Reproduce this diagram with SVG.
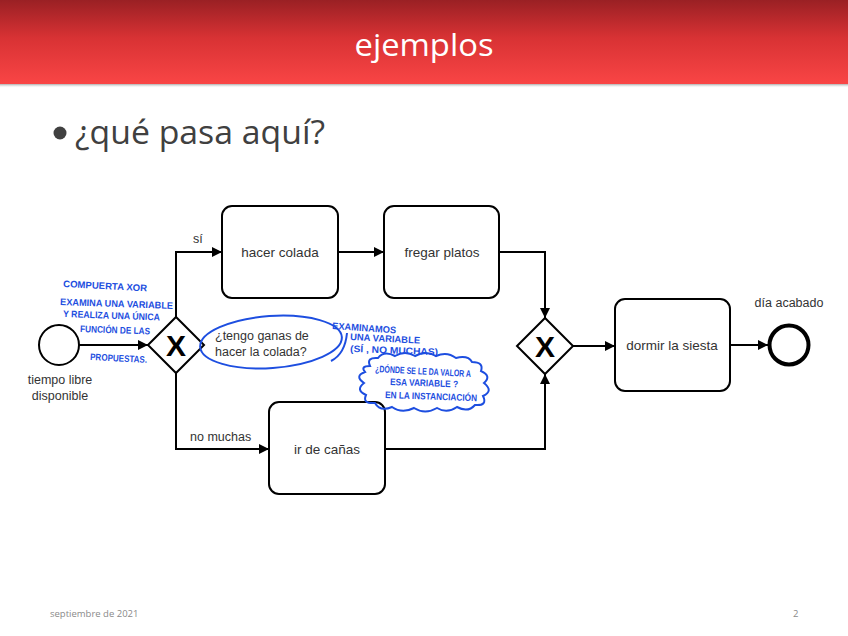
<svg xmlns="http://www.w3.org/2000/svg" width="848" height="636" viewBox="0 0 848 636">
<defs>
<linearGradient id="hdr" x1="0" y1="0" x2="0" y2="1">
<stop offset="0" stop-color="#9a2024"/>
<stop offset="0.45" stop-color="#d83234"/>
<stop offset="1" stop-color="#f94545"/>
</linearGradient>
<linearGradient id="shd" x1="0" y1="0" x2="0" y2="1">
<stop offset="0" stop-color="#999" stop-opacity="0.8"/>
<stop offset="1" stop-color="#fff" stop-opacity="0"/>
</linearGradient>
<marker id="arr" viewBox="0 0 10 10" refX="10" refY="5" markerWidth="10" markerHeight="10" markerUnits="userSpaceOnUse" orient="auto">
<path d="M0,0 L10,5 L0,10 Z" fill="#000"/>
</marker>
<style>
.task{fill:#fff;stroke:#000;stroke-width:2}
.lbl{font-family:"Liberation Sans",Arial,sans-serif;font-size:12.5px;fill:#333}
.big{font-size:13.5px}
.ctr{text-anchor:middle}
.gw{fill:#fff;stroke:#000;stroke-width:2}
.gx{font-family:"Liberation Sans",Arial,sans-serif;font-size:30px;font-weight:bold;fill:#000;text-anchor:middle}
.flow{fill:none;stroke:#000;stroke-width:2;marker-end:url(#arr)}
.hand{font-family:"Liberation Sans",Arial,sans-serif;font-weight:bold;fill:#1d4ee0;font-size:9.5px}
.ink{fill:none;stroke:#1d4ee0;stroke-width:2}
</style>
</defs>
<rect width="848" height="636" fill="#fff"/>
<rect x="0" y="0" width="848" height="84" fill="url(#hdr)"/>
<rect x="0" y="84" width="848" height="4" fill="url(#shd)"/>
<text x="424" y="56" font-family="'Open Sans','Noto Sans',sans-serif" font-size="31" fill="#fff" text-anchor="middle" textLength="139" lengthAdjust="spacingAndGlyphs">ejemplos</text>
<circle cx="60" cy="133" r="6.5" fill="#404040"/>
<text x="75" y="144" font-family="'Open Sans','Noto Sans',sans-serif" font-size="32" fill="#404040" textLength="250" lengthAdjust="spacingAndGlyphs">¿qué pasa aquí?</text>

<g id="connectors">
<path class="flow" d="M79,345 L148,345"/>
<path class="flow" d="M176,317 L176,252 L222,252"/>
<path class="flow" d="M338,252 L384,252"/>
<path class="flow" d="M499,252 L545,252 L545,318"/>
<path class="flow" d="M176,373 L176,449 L269,449"/>
<path class="flow" d="M385,449 L545,449 L545,374"/>
<path class="flow" d="M573,346 L615,346"/>
<path class="flow" d="M730,345 L768,345"/>
<text class="lbl" x="193" y="243">sí</text>
<text class="lbl" x="190" y="441">no muchas</text>
</g>

<g id="start">
<circle cx="59" cy="345" r="20" fill="#fff" stroke="#000" stroke-width="2"/>
<text class="lbl ctr" x="60" y="384">tiempo libre</text>
<text class="lbl ctr" x="60" y="400">disponible</text>
</g>
<g id="gateway1">
<path class="gw" d="M148,345 L176,317 L204,345 L176,373 Z"/>
<text class="gx" x="176" y="356">X</text>
</g>
<g id="hacer-colada">
<rect class="task" x="222" y="206" width="116" height="92" rx="10"/>
<text class="lbl big ctr" x="280" y="257">hacer colada</text>
</g>
<g id="fregar-platos">
<rect class="task" x="384" y="206" width="115" height="92" rx="10"/>
<text class="lbl big ctr" x="442" y="257">fregar platos</text>
</g>
<g id="ir-de-canas">
<rect class="task" x="269" y="402" width="116" height="92" rx="10"/>
<text class="lbl big ctr" x="327" y="454">ir de cañas</text>
</g>
<g id="gateway2">
<path class="gw" d="M517,346 L545,318 L573,346 L545,374 Z"/>
<text class="gx" x="545" y="357">X</text>
</g>
<g id="dormir-siesta">
<rect class="task" x="615" y="299" width="115" height="92" rx="10"/>
<text class="lbl big ctr" x="672" y="350">dormir la siesta</text>
</g>
<g id="end">
<circle cx="789" cy="345" r="19.5" fill="#fff" stroke="#000" stroke-width="4"/>
<text class="lbl ctr" x="789" y="307">día acabado</text>
</g>

<g id="annotations">
<ellipse class="ink" cx="271" cy="342" rx="71" ry="26" transform="rotate(-4 271 342)"/>
<text class="lbl" x="215" y="340" font-size="12.5">¿tengo ganas de</text>
<text class="lbl" x="215" y="356" font-size="12.5">hacer la colada?</text>

<text class="hand" x="63" y="287" textLength="84" lengthAdjust="spacingAndGlyphs" transform="rotate(3 63 287)">COMPUERTA XOR</text>
<text class="hand" x="60" y="305" textLength="113" lengthAdjust="spacingAndGlyphs" transform="rotate(2 60 305)">EXAMINA UNA VARIABLE</text>
<text class="hand" x="63" y="317" textLength="97" lengthAdjust="spacingAndGlyphs" transform="rotate(2 63 317)">Y REALIZA UNA ÚNICA</text>
<text class="hand" x="80" y="332" textLength="70" lengthAdjust="spacingAndGlyphs" transform="rotate(2 80 332)">FUNCIÓN DE LAS</text>
<text class="hand" x="90" y="360" textLength="57" lengthAdjust="spacingAndGlyphs" transform="rotate(3 90 360)">PROPUESTAS.</text>

<text class="hand" x="332" y="329" font-size="8.5" textLength="64" lengthAdjust="spacingAndGlyphs" transform="rotate(4 332 329)">EXAMINAMOS</text>
<text class="hand" x="350" y="340" font-size="8.5" textLength="70" lengthAdjust="spacingAndGlyphs" transform="rotate(3 350 340)">UNA VARIABLE</text>
<text class="hand" x="350" y="352" font-size="8.5" textLength="88" lengthAdjust="spacingAndGlyphs" transform="rotate(2 350 352)">(SÍ , NO MUCHAS)</text>
<path class="ink" stroke-width="1.6" d="M347,333 Q345,354 331,361"/>

<path class="ink" stroke-width="1.8" d="M370,366 Q366,357 378,358 Q384,350 395,356 Q405,350 415,356 Q426,350 436,356 Q447,351 456,358 Q468,355 472,362 Q484,362 481,371 Q492,376 484,383 Q494,391 483,396 Q488,406 475,405 Q468,413 457,407 Q447,414 437,408 Q425,415 414,408 Q402,414 392,407 Q380,412 375,403 Q362,404 366,395 Q355,390 364,383 Q354,376 365,372 Q360,366 370,366 Z"/>
<text class="hand" x="375" y="372" font-size="7.5" textLength="96" lengthAdjust="spacingAndGlyphs" transform="rotate(3 375 372)">¿DÓNDE SE LE DA VALOR A</text>
<text class="hand" x="390" y="385" font-size="7.5" textLength="68" lengthAdjust="spacingAndGlyphs" transform="rotate(2 390 385)">ESA VARIABLE ?</text>
<text class="hand" x="385" y="398" font-size="7.5" textLength="92" lengthAdjust="spacingAndGlyphs" transform="rotate(2 385 398)">EN LA INSTANCIACIÓN</text>
</g>

<text x="50" y="617" font-family="'Open Sans','Noto Sans',sans-serif" font-size="9.5" fill="#8a8a8a">septiembre de 2021</text>
<text x="793" y="617" font-family="'Open Sans','Noto Sans',sans-serif" font-size="9.5" fill="#8a8a8a">2</text>
</svg>
